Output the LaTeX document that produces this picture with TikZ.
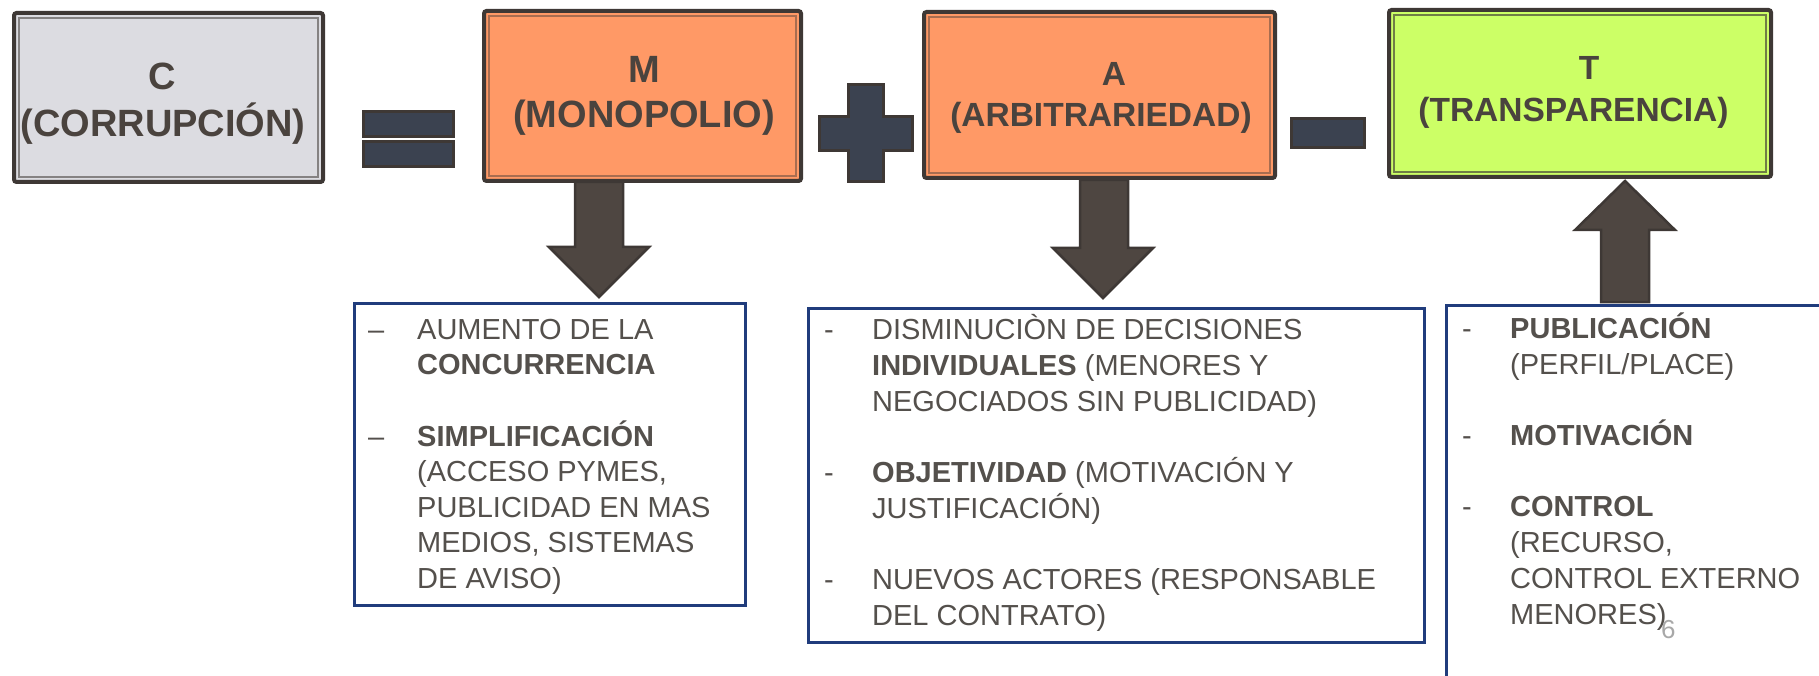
\documentclass[tikz,border=0pt]{standalone}
\usepackage{fontspec}
\setmainfont{Liberation Sans}
\usetikzlibrary{calc}
\definecolor{dk}{HTML}{3E3835}
\definecolor{cfill}{HTML}{DCDCE1}
\definecolor{ofill}{HTML}{FF9966}
\definecolor{gfill}{HTML}{CCFF66}
\definecolor{opfill}{HTML}{3B4250}
\definecolor{arfill}{HTML}{4E4641}
\definecolor{ttxt}{HTML}{4A433E}
\definecolor{ltxt}{HTML}{54504C}
\definecolor{navy}{HTML}{203C7C}
\definecolor{pgnum}{HTML}{A8A8A8}
\begin{document}
\begin{tikzpicture}[x=1pt,y=-1pt,
  titlebox/.style={draw=dk, line width=4pt, rounded corners=2.5pt, inner sep=0pt},
  innerline/.style={line width=1.2pt},
  titlebig/.style={text=ttxt, inner sep=0pt, anchor=base, font=\bfseries\fontsize{38}{46}\selectfont},
  titlesmall/.style={text=ttxt, inner sep=0pt, anchor=base, font=\bfseries\fontsize{33.5}{41}\selectfont},
  opshape/.style={fill=opfill, draw=dk, line width=3pt, line join=miter},
  blockarrow/.style={fill=arfill, draw=dk, line width=2.5pt, line join=miter},
  listbox/.style={draw=navy, line width=3pt, fill=white, inner sep=0pt},
  listtext/.style={text=ltxt, inner sep=0pt, anchor=base west, font=\fontsize{29}{36}\selectfont},
]
\useasboundingbox (0,0) rectangle (1819,676);

% list boxes
\node[listbox, minimum width=391pt, minimum height=302pt] (Mlist) at (550,454.5) {};
\node[listbox, minimum width=616pt, minimum height=334pt] (Alist) at (1116.5,475.5) {};
\node[listbox, minimum width=400pt, minimum height=400pt] (Tlist) at (1646.5,505.5) {};

% title boxes
\node[titlebox, fill=cfill, minimum width=309pt, minimum height=169pt] (C) at (168.5,97.5) {};
\draw[innerline, draw=cfill!45!dk] ($(C.north west)+(7,7)$) rectangle ($(C.south east)+(-7,-7)$);
\node[titlebox, fill=ofill, minimum width=317pt, minimum height=170pt] (M) at (642.5,96) {};
\draw[innerline, draw=ofill!55!dk] ($(M.north west)+(7,7)$) rectangle ($(M.south east)+(-7,-7)$);
\node[titlebox, fill=ofill, minimum width=351pt, minimum height=166pt] (A) at (1099.5,95) {};
\draw[innerline, draw=ofill!55!dk] ($(A.north west)+(7,7)$) rectangle ($(A.south east)+(-7,-7)$);
\node[titlebox, fill=gfill, minimum width=382pt, minimum height=167pt] (T) at (1580,93.5) {};
\draw[innerline, draw=gfill!35!dk] ($(T.north west)+(7,7)$) rectangle ($(T.south east)+(-7,-7)$);

% title texts
\node[titlebig] (C1) at (162,90) {C};
\node[titlebig] (C2) at (163,137) {(CORRUPCIÓN)};
\node[titlebig] (M1) at (644,83) {M};
\node[titlebig] (M2) at (644,128) {(MONOPOLIO)};
\node[titlesmall] (A1) at (1114,86) {A};
\node[titlesmall] (A2) at (1101,127) {(ARBITRARIEDAD)};
\node[titlesmall] (T1) at (1589,80) {T};
\node[titlesmall] (T2) at (1573.5,122) {(TRANSPARENCIA)};

% operators
\draw[opshape] (363.5,111.5) rectangle (453.5,136.5);
\draw[opshape] (363.5,141.5) rectangle (453.5,166.5);
\draw[opshape] (848.5,84.5) -- (883.5,84.5) -- (883.5,116.5) -- (912.5,116.5) -- (912.5,150.5)
  -- (883.5,150.5) -- (883.5,181.5) -- (848.5,181.5) -- (848.5,150.5) -- (819.5,150.5)
  -- (819.5,116.5) -- (848.5,116.5) -- cycle;
\draw[opshape] (1291.5,118.5) rectangle (1364.5,147.5);

% block arrows
\draw[blockarrow] (575,182) -- (575,247) -- (549,247) -- (599,297) -- (649,247) -- (623,247) -- (623,182) -- cycle;
\draw[blockarrow] (1080,180) -- (1080,248) -- (1053,248) -- (1103,298) -- (1153,248) -- (1128,248) -- (1128,180) -- cycle;
\draw[blockarrow] (1601,302) -- (1601,230) -- (1575,230) -- (1625,181) -- (1675,230) -- (1649,230) -- (1649,302) -- cycle;

% list texts
\node[listtext, font=\fontsize{29}{35.5}\selectfont] (Mtext) at (368,339) {\begin{tabular}[t]{@{}p{49pt}@{}l@{}}
–& AUMENTO DE LA\\
 & \textbf{CONCURRENCIA}\\[35.5pt]
–& \textbf{SIMPLIFICACIÓN}\\
 & (ACCESO PYMES,\\
 & PUBLICIDAD EN MAS\\
 & MEDIOS, SISTEMAS\\
 & DE AVISO)
\end{tabular}};

\node[listtext] (Atext) at (824,339) {\begin{tabular}[t]{@{}p{48pt}@{}l@{}}
-& DISMINUCIÒN DE DECISIONES\\
 & \textbf{INDIVIDUALES} (MENORES Y\\
 & NEGOCIADOS SIN PUBLICIDAD)\\[35pt]
-& \textbf{OBJETIVIDAD} (MOTIVACIÓN Y\\
 & JUSTIFICACIÓN)\\[35pt]
-& NUEVOS ACTORES (RESPONSABLE\\
 & DEL CONTRATO)
\end{tabular}};

\node[listtext] (Ttext) at (1462,338) {\begin{tabular}[t]{@{}p{48pt}@{}l@{}}
-& \textbf{PUBLICACIÓN}\\
 & (PERFIL/PLACE)\\[35pt]
-& \textbf{MOTIVACIÓN}\\[35pt]
-& \textbf{CONTROL}\\
 & (RECURSO,\\
 & CONTROL EXTERNO\\
 & MENORES)
\end{tabular}};

\node[text=pgnum, font=\fontsize{26}{30}\selectfont, anchor=base west, inner sep=0pt] (pg) at (1661,638) {6};
\end{tikzpicture}
\end{document}
